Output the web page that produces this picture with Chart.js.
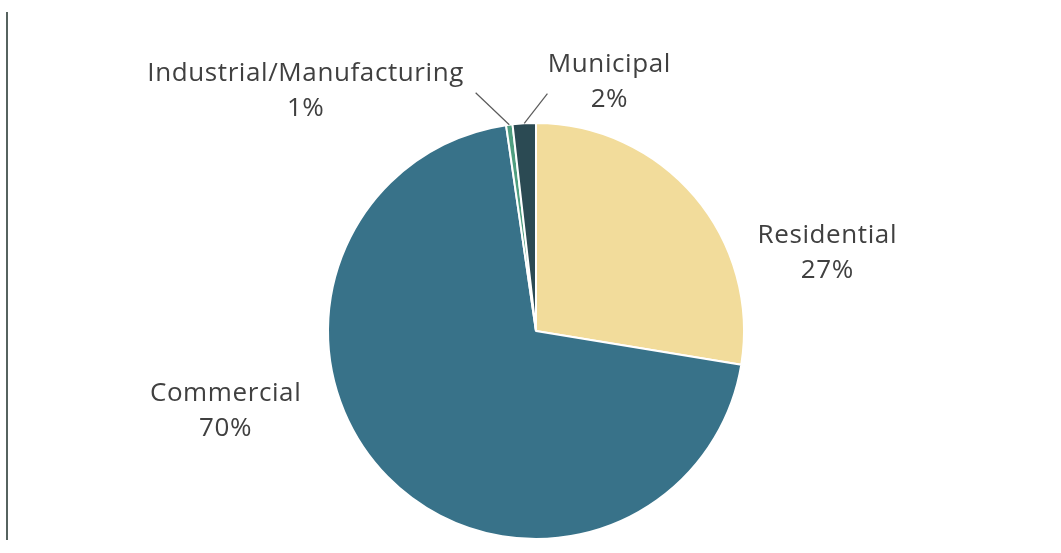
<!DOCTYPE html>
<html>
<head>
<meta charset="utf-8">
<script src="https://cdn.jsdelivr.net/npm/chart.js@4/dist/chart.umd.min.js"></script>
<style>
  html, body { margin: 0; padding: 0; background: #fff; }
  #wrap { position: relative; width: 1061px; height: 553px; }
  #edge { position: absolute; left: 6px; top: 12px; width: 2px; height: 528px; background: #56635f; }
</style>
</head>
<body>
<div id="wrap">
  <div id="edge"></div>
  <canvas id="pieChart"></canvas>
</div>
<script>
// ===== Sector share pie =====

const categories = ['Residential', 'Commercial', 'Industrial/Manufacturing', 'Municipal'];
const shares = [27.6, 70.1, 0.5, 1.8];
const percentLabels = ['27%', '70%', '1%', '2%'];
const sliceColors = ['#f2dc9b', '#387289', '#4f9e80', '#2b4a53'];

// label placement per slice: angle clockwise from 12 o'clock, distance as multiple of radius
const labelPlacement = [
  { angle: 75, dist: 1.45 },
  { angle: 255.7, dist: 1.54 },
  { angle: -43.8, dist: 1.6, leader: [170, 2] },
  { angle: 16.4, dist: 1.25, leader: [-62, 12] }
];

const sliceLabels = {
  id: 'sliceLabels',
  afterDatasetsDraw(chart) {
    const ctx = chart.ctx;
    const arcs = chart.getDatasetMeta(0).data;
    ctx.save();
    ctx.font = '26px "Open Sans", Lato, sans-serif';
    ctx.letterSpacing = '0.6px';
    ctx.fillStyle = '#404040';
    ctx.textAlign = 'center';
    ctx.textBaseline = 'middle';
    arcs.forEach((arc, i) => {
      const p = labelPlacement[i];
      const r = arc.outerRadius;
      const a = p.angle * Math.PI / 180;
      const lx = arc.x + Math.sin(a) * r * p.dist;
      const ly = arc.y - Math.cos(a) * r * p.dist;
      ctx.fillText(categories[i], lx, ly - 17);
      ctx.fillText(percentLabels[i], lx, ly + 18);

      if (p.leader) {
        const mid = (arc.startAngle + arc.endAngle) / 2;
        const ex = arc.x + Math.cos(mid) * r;
        const ey = arc.y + Math.sin(mid) * r;
        ctx.beginPath();
        ctx.strokeStyle = '#5a5a5a';
        ctx.lineWidth = 1.2;
        ctx.moveTo(lx + p.leader[0], ly + p.leader[1]);
        ctx.lineTo(ex, ey);
        ctx.stroke();
      }
    });
    ctx.restore();
  }
};

new Chart(document.getElementById('pieChart'), {
  type: 'pie',
  data: {
    labels: categories,
    datasets: [{ data: shares, backgroundColor: sliceColors, borderColor: '#ffffff', borderWidth: 2 }]
  },
  options: {
    responsive: true,
    maintainAspectRatio: false,
    animation: false,
    layout: { padding: { top: 122, bottom: 13, left: 11, right: 0 } },
    plugins: { legend: { display: false }, tooltip: { enabled: false } }
  },
  plugins: [sliceLabels]
});
</script>
</body>
</html>
